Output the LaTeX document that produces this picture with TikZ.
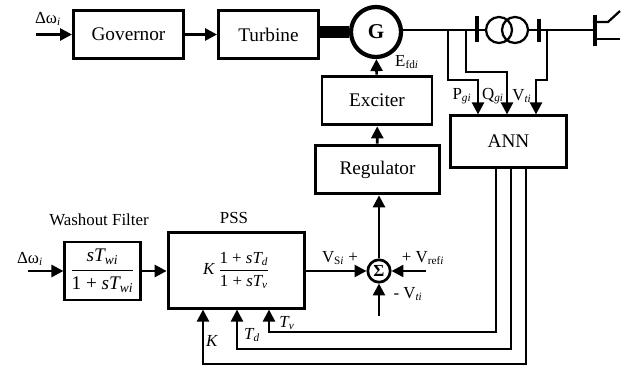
\documentclass[tikz,border=0pt]{standalone}
\usepackage{amsmath}
\usepackage{fontspec}
\setmainfont{Liberation Serif}
\usepackage{tikz}
\usetikzlibrary{arrows.meta, positioning, calc}
\newcommand{\subi}[1]{\textsubscript{\textit{#1}}}
\newcommand{\frc}[2]{\ensuremath{\dfrac{\mbox{#1}}{\mbox{#2}}}}

\begin{document}
\begin{tikzpicture}[
    x=0.025cm, y=-0.025cm,
    block/.style={rectangle, draw, line width=2.1pt, inner sep=0pt, align=center,
      font=\fontsize{13.7}{15}\selectfont},
    lab/.style={inner sep=0pt, font=\fontsize{12}{13}\selectfont},
    sig/.style={-{Triangle[length=8.5pt, width=8.5pt]}, line width=1.9pt},
    fb/.style={-{Triangle[length=8.5pt, width=8.5pt]}, line width=1.7pt},
    wire/.style={line width=1.6pt},
    bar/.style={rectangle, fill=black, inner sep=0pt, minimum width=0.09cm}
  ]
  \useasboundingbox (0,0) rectangle (632,367);
  % === Upper row ===
  \node[block, minimum width=2.75cm, minimum height=1.2cm] (gov) at (128.5,34.5) {Governor};
  \node[block, minimum width=2.5cm, minimum height=1.2cm] (tur) at (268.5,34.5) {Turbine};
  \node[circle, draw, line width=3pt, minimum size=1.25cm, inner sep=0pt,
    font=\fontsize{15}{16}\selectfont\bfseries] (gen) at (376,32) {G};
  \coordinate (gin) at (36,34.5);
  \node[lab] (gdw) at (48,19) {Δω\subi{i}};
  \draw[sig] (gin) -- (gov);
  \draw[sig] (gov) -- (tur);
  \draw[line width=8.5pt] (gen.west -| tur.east) -- (gen.west);

  % === Exciter and regulator ===
  \node[block, minimum width=2.75cm, minimum height=1.22cm] (exc) at (377,100.5) {Exciter};
  \node[block, minimum width=3.08cm, minimum height=1.22cm] (reg) at (377.5,169.5) {Regulator};
  \draw[sig] (exc) -- (gen);
  \draw[sig] (reg) -- (exc);
  \node[lab] (efd) at (407,62) {E\textsubscript{fd\textit{i}}};

  % === Bus and load ===
  \node[bar, minimum height=0.65cm] (bar1) at (477,29) {};
  \node[circle, draw, wire, minimum size=0.65cm, inner sep=0pt] (tr1) at (499,30) {};
  \node[circle, draw, wire, minimum size=0.65cm, inner sep=0pt] (tr2) at (515,30) {};
  \node[bar, minimum height=0.58cm] (bar2) at (539,30.5) {};
  \node[bar, minimum height=0.78cm] (bar3) at (595,30.5) {};
  \coordinate (lo1) at (608,22);
  \coordinate (lo2) at (620,11);
  \coordinate (lo3) at (620,39);
  \draw[wire] (gen.east |- tr1) -- (bar1 |- tr1);
  \draw[wire] (bar1 |- tr1) -- (tr1);
  \draw[wire] (tr2) -- (tr2 -| bar2);
  \draw[wire] (bar2 |- tr2) -- (tr2 -| bar3);
  \draw[wire] (bar3.west |- lo1) -- (lo1) -- (lo2);
  \draw[wire] (bar3.west |- lo3) -- (lo3);

  % === ANN ===
  \node[block, minimum width=2.88cm, minimum height=1.28cm] (ann) at (508.5,141.5) {ANN};
  \coordinate (p1) at (448,30);
  \coordinate (p2) at (478,80);
  \coordinate (q1) at (466,30);
  \coordinate (q2) at (507,72);
  \coordinate (v1) at (547,30);
  \coordinate (v2) at (536,80);
  \draw[fb] (p1) |- (p2) -- (p2 |- ann.north);
  \draw[fb] (q1) |- (q2) -- (q2 |- ann.north);
  \draw[fb] (v1) |- (v2) -- (v2 |- ann.north);
  \node[lab] (pg) at (462,96) {P\subi{gi}};
  \node[lab] (qg) at (493,96) {Q\subi{gi}};
  \node[lab] (vt) at (522,96) {V\subi{ti}};

  % === Washout and PSS ===
  \node[block, minimum width=1.88cm, minimum height=1.45cm] (wash) at (102.5,271) {\frc{\textit{sT\subi{wi}}}{1 + \textit{sT\subi{wi}}}};
  \node[block, minimum width=3.42cm, minimum height=1.88cm, font=\fontsize{12}{13}\selectfont] (pss) at (236.5,270.5) {\textit{K}\,\frc{1 + \textit{sT\subi{d}}}{1 + \textit{sT\subi{v}}}};
  \node[lab] (wtit) at (99,220) {Washout Filter};
  \node[lab] (ptit) at (234,218) {PSS};
  \coordinate (win) at (28,271);
  \node[lab] (wdw) at (30,259) {Δω\subi{i}};
  \draw[sig] (win) -- (wash);
  \draw[sig] (wash) -- (wash -| pss.west);

  % === Sum ===
  \node[circle, draw, line width=1.9pt, minimum size=0.56cm, inner sep=0pt,
    font=\fontsize{12}{13}\selectfont\bfseries] (sum) at (379,271) {Σ};
  \coordinate (sref) at (426,271);
  \coordinate (svt) at (379,316);
  \draw[sig] (pss.east |- sum) -- (sum);
  \draw[sig] (sref) -- (sum);
  \draw[sig] (svt) -- (sum);
  \draw[sig] (sum) -- (sum |- reg.south);
  \node[lab] (vs) at (340,258) {V\textsubscript{S\textit{i}} +};
  \node[lab] (vr) at (423,258) {+ V\textsubscript{ref\textit{i}}};
  \node[lab] (vm) at (408,294) {- V\subi{ti}};

  % === Feedback ===
  \coordinate (tvc) at (496,332);
  \coordinate (tdc) at (511,349);
  \coordinate (kc) at (526,364);
  \coordinate (tvb) at (269,332);
  \coordinate (tdb) at (237,349);
  \coordinate (kb) at (203,364);
  \draw[fb] (tvc |- ann.south) -- (tvc) -- (tvb) -- (tvb |- pss.south);
  \draw[fb] (tdc |- ann.south) -- (tdc) -- (tdb) -- (tdb |- pss.south);
  \draw[fb] (kc |- ann.south) -- (kc) -- (kb) -- (kb |- pss.south);
  \node[lab] (ltv) at (287,323) {\textit{T\subi{v}}};
  \node[lab] (ltd) at (252,335) {\textit{T\subi{d}}};
  \node[lab] (lk) at (212,341) {\textit{K}};
\end{tikzpicture}
\end{document}
